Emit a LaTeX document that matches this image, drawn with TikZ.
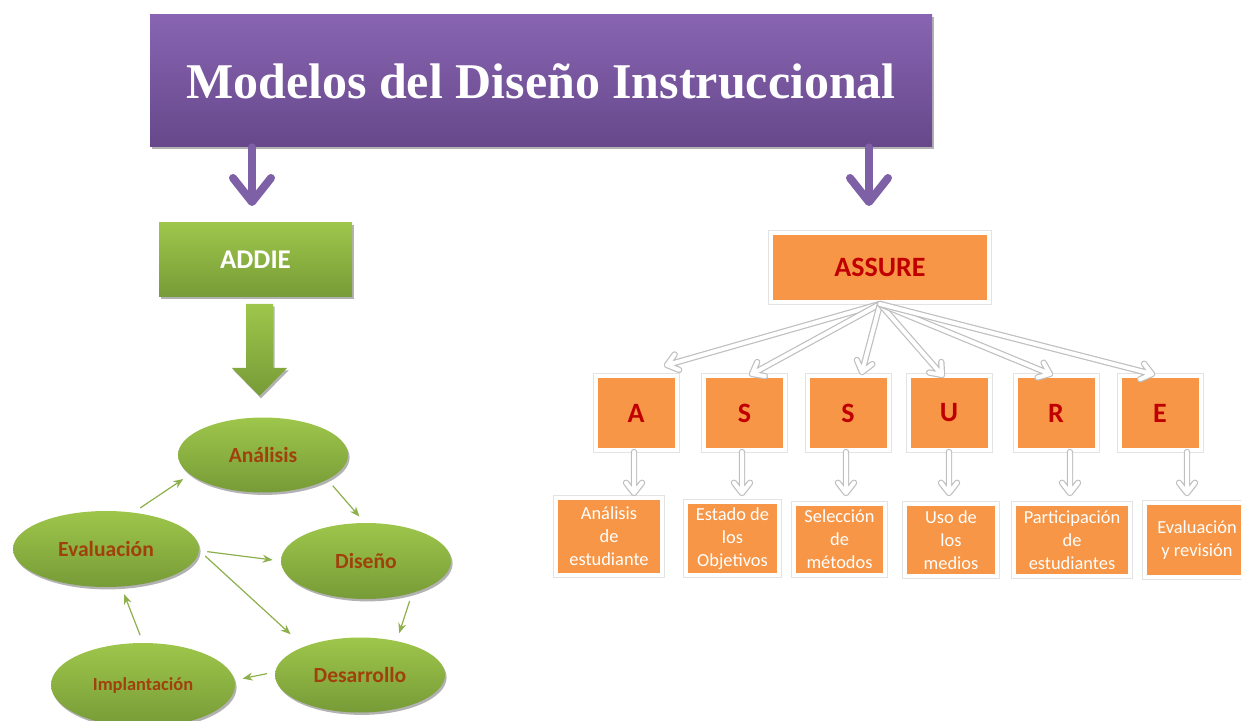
\documentclass[tikz,border=0pt]{standalone}
\usepackage{fontspec}
\setmainfont{Carlito}
\newfontfamily\titlefont{Liberation Serif}
\usetikzlibrary{shapes.geometric, arrows.meta, shadows, calc, positioning}

\definecolor{purpletop}{HTML}{8864B2}
\definecolor{purplebot}{HTML}{66488A}
\definecolor{purplearrow}{HTML}{7D60A6}
\definecolor{greentop}{HTML}{9EC64B}
\definecolor{greenbot}{HTML}{779B37}
\definecolor{greenline}{HTML}{8DB04C}
\definecolor{phasetext}{HTML}{A0410D}
\definecolor{assureorange}{HTML}{F79646}
\definecolor{letterred}{HTML}{C00000}

\tikzset{
	shadowed/.style = {drop shadow = {shadow xshift = 0.8pt, shadow yshift = -1.2pt, opacity = 0.3, fill = black}},
	framed/.style = {preaction = {draw = gray!22, line width = 3pt}, draw = white, line width = 2pt},
	titlebox/.style = {rectangle, top color = purpletop, bottom color = purplebot, shadowed, text = white,
		minimum width = 391pt, minimum height = 66pt, font = \titlefont\bfseries\fontsize{25}{30}\selectfont},
	greenbox/.style = {rectangle, top color = greentop, bottom color = greenbot, shadowed, text = white,
		minimum width = 96.5pt, minimum height = 37pt, font = \bfseries\fontsize{13.5}{16}\selectfont},
	phase/.style = {ellipse, top color = greentop, bottom color = greenbot, shadowed, inner sep = 0pt,
		text = phasetext, font = \bfseries\fontsize{10.8}{13}\selectfont},
	assurebox/.style = {rectangle, fill = assureorange, shadowed, framed,
		text = letterred, font = \bfseries\fontsize{14}{17}\selectfont},
	letterbox/.style = {assurebox, minimum width = 40.5pt, minimum height = 37pt},
	stepbox/.style = {rectangle, fill = assureorange, shadowed, framed, inner sep = 1pt,
		text = white, align = center, font = \fontsize{9.2}{11.5}\selectfont},
	purplelink/.style = {draw = purplearrow, line width = 4pt, line cap = round,
		-{Straight Barb[length = 12pt, width = 19pt, round]}},
	cyclelink/.style = {draw = greenline, line width = 0.6pt, shorten > = 4pt, shorten < = 4pt,
		-{Stealth[length = 5pt, width = 4pt]}}
}

% white arrow with a grey rim: grey stroke first, white stroke on top
\newcommand{\hollowarrow}[2]{%
	\foreach \c/\w in {gray!50/3.2pt, white/2pt}
		\draw[draw = \c, line width = \w, line cap = round, line join = round]
			(#1) -- (#2) ($(#2)!6.5pt!38:(#1)$) -- (#2) -- ($(#2)!6.5pt!-38:(#1)$);
}

\begin{document}
\begin{tikzpicture}[x = 0.5pt, y = -0.5pt]
	\useasboundingbox (0, 0) rectangle (1241, 721);
	% title
	\node[titlebox] (title) at (541, 81) {Modelos del Diseño Instruccional};
	\node[greenbox] (addie) at (255.5, 260) {ADDIE};
	\node[assurebox, minimum width = 109pt, minimum height = 34.5pt] (assure) at (880, 267.5) {ASSURE};
	\draw[purplelink] (title.south -| 252, 0) -- (252, 206);
	\draw[purplelink] (title.south -| 869, 0) -- (869, 206);
	% ADDIE
	\path[top color = greentop, bottom color = greenbot, shadowed]
		(246, 304) -- (273, 304) -- (273, 368) -- (287, 368) -- (259.5, 396) -- (232, 368) -- (246, 368) -- cycle;
	\node[phase, minimum width = 85pt, minimum height = 37.5pt] (anal) at (263, 455) {Análisis};
	\node[phase, minimum width = 93pt, minimum height = 38pt] (eval) at (106, 549) {Evaluación};
	\node[phase, minimum width = 85pt, minimum height = 38pt] (dis) at (366, 561) {Diseño};
	\node[phase, minimum width = 85pt, minimum height = 37.5pt] (des) at (360, 675) {Desarrollo};
	\node[phase, minimum width = 92pt, minimum height = 42pt, font = \bfseries\fontsize{9.2}{11}\selectfont] (impl) at (143, 685) {Implantación};
	\draw[cyclelink] (eval.53) -- (anal.195);
	\draw[cyclelink] (anal.339) -- (dis.92);
	\draw[cyclelink] (dis.325) -- (des.43);
	\draw[cyclelink] (des.178) -- (impl.3);
	\draw[cyclelink] (impl.90) -- (eval.292);
	\draw[cyclelink] (eval.359) -- (dis.180);
	\draw[cyclelink, shorten > = 9pt] (eval.359) -- (des.153);
	% ASSURE
	\foreach \n/\x/\l in {a/636/A, s/744.5/S, t/848/S, u/949/U, r/1056/R, e/1160/E}
		\node[letterbox] (l\n) at (\x, 413) {\l};
	\node[stepbox, minimum width = 53pt, minimum height = 38.5pt] (ba) at (609, 536.5) {Análisis\\de\\estudiante};
	\node[stepbox, minimum width = 46.5pt, minimum height = 36.5pt] (bs) at (732.5, 538.5) {Estado de\\los\\Objetivos};
	\node[stepbox, minimum width = 45.5pt, minimum height = 35.5pt] (bt) at (839.5, 539.5) {Selección\\de\\métodos};
	\node[stepbox, minimum width = 46pt, minimum height = 36pt] (bu) at (951, 540) {Uso de\\los\\medios};
	\node[stepbox, minimum width = 58pt, minimum height = 36pt] (br) at (1072, 540) {Participación\\de\\estudiantes};
	\node[stepbox, minimum width = 52pt, minimum height = 37pt] (be) at (1197, 540) {Evaluación\\y revisión};
	\foreach \n/\tx/\ty in {a/667/365, s/752/374, t/862/372, u/942/375, r/1050/374, e/1152/374} {
		\coordinate (t\n) at (\tx, \ty);
		\hollowarrow{assure.south}{t\n}
	}
	\foreach \n/\ax in {a/634, s/742, t/846, u/949, r/1070, e/1187} {
		\path (l\n.south -| \ax, 0) coordinate (v\n) (\ax, 493) coordinate (w\n);
		\hollowarrow{v\n}{w\n}
	}
\end{tikzpicture}
\end{document}
